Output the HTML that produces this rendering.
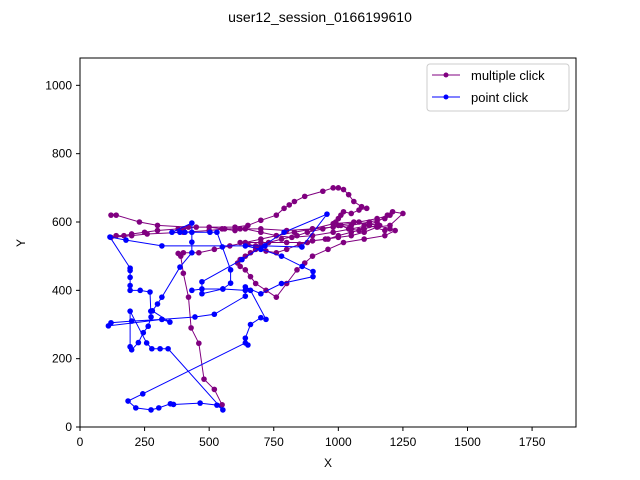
<!DOCTYPE html>
<html><head><meta charset="utf-8"><style>
body{margin:0;background:#fff}
svg{display:block;font-family:"Liberation Sans","DejaVu Sans",sans-serif}
</style></head><body>
<svg id="chart" width="640" height="480">
<text x="320" y="22" text-anchor="middle" font-size="14">user12_session_0166199610</text>
<rect x="80" y="58" width="496" height="369" fill="#fff" stroke="none"/>
<g id="ticks"></g>
<g id="series"></g>
<rect x="80" y="58" width="496" height="369" fill="none" stroke="#000" stroke-width="1"/>
<text x="328" y="467" text-anchor="middle" font-size="12">X</text>
<text x="25" y="243" text-anchor="middle" font-size="12" transform="rotate(-90 25 243)">Y</text>
<g>
<rect x="427" y="64" width="142" height="47" rx="3" fill="#fff" stroke="#ccc"/>
<g>
<line x1="432" y1="75" x2="460" y2="75" stroke="#800080" stroke-width="1"/><circle cx="446" cy="75" r="2.5" fill="#800080"/>
<text x="471" y="80" font-size="13">multiple click</text></g>
<g>
<line x1="432" y1="97" x2="460" y2="97" stroke="#0000ff" stroke-width="1"/><circle cx="446" cy="97" r="2.5" fill="#0000ff"/>
<text x="471" y="102" font-size="13">point click</text></g>
</g>
</svg>
<script>
const xTicks=[0,250,500,750,1000,1250,1500,1750];
const yTicks=[0,200,400,600,800,1000];
const multiX=[120,140,230,300,420,600,650,700,760,790,810,830,870,940,980,1000,1020,1040,1060,1090,1110,1080,1050,1020,1010,1000,990,1010,1040,1080,1100,1150,1190,1210,1250,1200,1150,1100,1050,1000,950,900,850,800,760,720,700,680,650,620,700,800,880,900,960,1000,1050,1100,1150,1200,1180,1120,1050,980,900,820,760,700,640,600,550,500,450,400,380,300,250,200,170,140,120,200,260,400,500,560,620,700,800,900,980,1050,1120,1180,1200,1150,1080,1000,940,880,840,780,730,700,680,660,640,620,610,620,640,660,680,720,760,800,840,870,900,960,1020,1100,1180,1220,1160,1060,980,900,830,760,700,640,580,520,460,400,380,390,400,420,430,460,480,520,550];
const multiY=[620,620,600,590,585,585,590,605,620,640,650,660,675,690,700,700,695,680,660,645,640,635,625,630,620,610,600,590,580,575,590,600,620,630,625,590,585,570,560,555,550,545,535,520,510,515,525,530,535,540,540,540,540,545,550,560,570,580,590,580,575,590,580,570,560,555,560,570,580,575,580,585,585,580,580,575,570,565,560,560,555,560,565,570,575,580,580,580,575,580,585,590,600,610,620,610,600,590,580,570,560,550,540,530,520,510,500,490,480,470,460,440,420,400,380,420,460,480,500,520,540,550,560,575,590,600,595,580,570,560,550,540,530,520,510,510,508,500,450,380,290,245,140,110,65,50];
const pointX=[859,716,317,178,116,194,194,194,194,194,233,271,274,275,264,245,226,200,194,194,258,278,310,341,553,530,465,362,350,305,275,216,186,243,640,650,640,660,700,720,660,640,700,780,902,902,860,780,700,640,716,859,956,790,627,472,472,553,583,583,551,530,503,433,406,387,356,433,433,433,387,317,300,280,348,317,110,120,200,317,445,520,640,640,553,472,433];
const pointY=[527,530,530,547,556,465,458,438,414,400,400,395,339,322,295,276,247,226,235,339,246,229,229,229,50,64,70,66,68,56,50,56,76,97,246,240,260,300,320,315,400,410,390,420,440,455,470,500,520,530,530,527,623,570,490,425,390,404,421,460,527,570,570,570,570,570,570,597,541,510,468,380,360,340,307,315,296,305,310,315,322,330,383,400,404,404,400];
const x0=80,x1=576,y0=427,y1=58,XM=1920,YM=1080;
const sx=v=>x0+v/XM*(x1-x0), sy=v=>y0-v/YM*(y0-y1);
const NS="http://www.w3.org/2000/svg";
const tg=document.getElementById('ticks'), sg=document.getElementById('series');
function mk(t,a,p){const e=document.createElementNS(NS,t);for(const k in a)e.setAttribute(k,a[k]);p.appendChild(e);return e;}
xTicks.forEach(v=>{const x=sx(v);
const l=mk('line',{x1:x,x2:x,y1:427,y2:431,stroke:'#000'},tg);


const t=mk('text',{x:x,y:446,'text-anchor':'middle','font-size':12},tg);t.textContent=v;

});
yTicks.forEach(v=>{const y=sy(v);
const l=mk('line',{x1:76,x2:80,y1:y,y2:y,stroke:'#000'},tg);


const t=mk('text',{x:72,y:y+4,'text-anchor':'end','font-size':12},tg);t.textContent=v;

});
function series(X,Y,c,name){
const g=mk('g',{},sg);


const n=Math.min(X.length,Y.length);
const pts=[];for(let i=0;i<n;i++)pts.push(sx(X[i])+','+sy(Y[i]));
const pl=mk('polyline',{points:pts.join(' '),fill:'none',stroke:c,'stroke-width':1},g);


for(let i=0;i<n;i++){const p=mk('circle',{cx:sx(X[i]),cy:sy(Y[i]),r:2.8,fill:c},g);

}
}
series(multiX,multiY,'#800080','multiple-click-series');
series(pointX,pointY,'#0000ff','point-click-series');
</script>
</body></html>
